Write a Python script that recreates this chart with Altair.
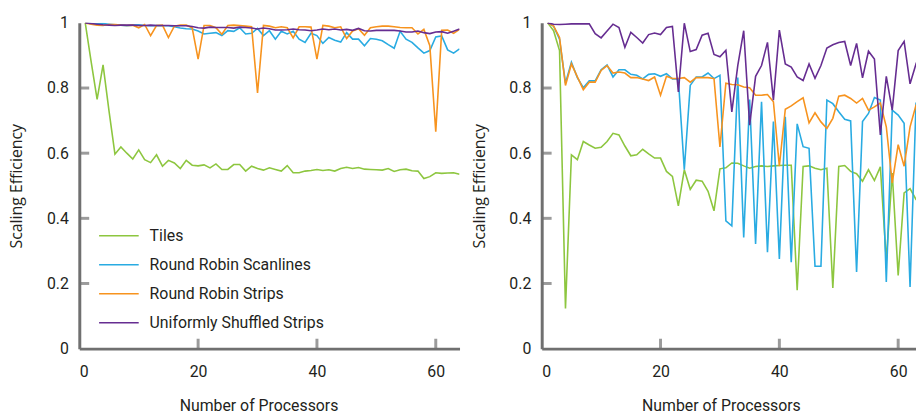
import altair as alt
import pandas as pd

SERIES = ["Tiles", "Round Robin Scanlines", "Round Robin Strips", "Uniformly Shuffled Strips"]
COLORS = ["#8DC63F", "#29ABE2", "#F7931E", "#662D91"]
PROCS = list(range(1, 65))

# ---- left panel ----
L_tiles = [1.0, 0.88, 0.765, 0.871, 0.73, 0.597, 0.619, 0.600, 0.582, 0.610,
           0.580, 0.571, 0.595, 0.560, 0.578, 0.570, 0.553, 0.578, 0.563, 0.561,
           0.564, 0.555, 0.567, 0.550, 0.550, 0.565, 0.565, 0.545, 0.560, 0.553,
           0.548, 0.555, 0.550, 0.545, 0.562, 0.540, 0.540, 0.545, 0.547, 0.550,
           0.547, 0.549, 0.545, 0.553, 0.557, 0.553, 0.556, 0.551, 0.550, 0.549,
           0.548, 0.553, 0.544, 0.549, 0.551, 0.546, 0.545, 0.522, 0.528, 0.540,
           0.538, 0.539, 0.540, 0.535]
L_scan = [1.0, 0.998, 0.997, 0.998, 0.996, 0.994, 0.993, 0.991, 0.993, 0.994,
          0.992, 0.991, 0.992, 0.991, 0.991, 0.988, 0.984, 0.982, 0.981, 0.975,
          0.966, 0.968, 0.970, 0.961, 0.976, 0.974, 0.985, 0.966, 0.968, 0.983,
          0.961, 0.976, 0.950, 0.974, 0.966, 0.974, 0.950, 0.940, 0.968, 0.961,
          0.937, 0.955, 0.947, 0.941, 0.970, 0.950, 0.950, 0.930, 0.952, 0.950,
          0.945, 0.933, 0.922, 0.974, 0.950, 0.940, 0.923, 0.907, 0.915, 0.957,
          0.960, 0.917, 0.907, 0.920]
L_strips = [1.0, 0.996, 0.993, 0.992, 0.995, 0.995, 0.993, 0.992, 0.993, 0.985,
            0.995, 0.961, 0.992, 0.993, 0.955, 0.990, 0.993, 0.993, 0.985, 0.889,
            0.992, 0.992, 0.985, 0.965, 0.992, 0.993, 0.992, 0.990, 0.988, 0.785,
            0.992, 0.990, 0.985, 0.988, 0.985, 0.954, 0.988, 0.988, 0.987, 0.889,
            0.992, 0.990, 0.985, 0.988, 0.952, 0.975, 0.982, 0.962, 0.985, 0.988,
            0.990, 0.990, 0.988, 0.986, 0.985, 0.985, 0.966, 0.980, 0.930, 0.666,
            0.977, 0.978, 0.968, 0.980]
L_shuffle = [1.0, 0.998, 0.996, 0.994, 0.993, 0.992, 0.993, 0.993, 0.993, 0.992,
             0.992, 0.993, 0.992, 0.992, 0.992, 0.991, 0.991, 0.991, 0.989, 0.985,
             0.984, 0.987, 0.986, 0.986, 0.986, 0.984, 0.987, 0.986, 0.984, 0.981,
             0.984, 0.982, 0.978, 0.978, 0.979, 0.981, 0.979, 0.978, 0.976, 0.978,
             0.981, 0.979, 0.981, 0.978, 0.980, 0.977, 0.983, 0.976, 0.975, 0.977,
             0.977, 0.977, 0.977, 0.975, 0.972, 0.972, 0.975, 0.970, 0.967, 0.972,
             0.973, 0.968, 0.974, 0.981]

# ---- right panel ----
R_tiles = [1.0, 0.976, 0.915, 0.123, 0.595, 0.580, 0.636, 0.625, 0.615, 0.618,
           0.636, 0.661, 0.656, 0.622, 0.592, 0.595, 0.612, 0.598, 0.585, 0.585,
           0.544, 0.529, 0.438, 0.549, 0.489, 0.517, 0.514, 0.483, 0.423, 0.552,
           0.555, 0.570, 0.569, 0.561, 0.554, 0.559, 0.561, 0.559, 0.561, 0.562,
           0.563, 0.563, 0.179, 0.559, 0.561, 0.554, 0.549, 0.554, 0.186, 0.559,
           0.562, 0.544, 0.537, 0.514, 0.549, 0.516, 0.558, 0.270, 0.539, 0.225,
           0.478, 0.491, 0.458, 0.440]
R_scan = [1.0, 0.990, 0.950, 0.815, 0.879, 0.832, 0.801, 0.822, 0.822, 0.856,
          0.871, 0.834, 0.856, 0.856, 0.842, 0.839, 0.828, 0.842, 0.844, 0.836,
          0.844, 0.828, 0.828, 0.549, 0.808, 0.834, 0.834, 0.846, 0.829, 0.839,
          0.392, 0.377, 0.832, 0.341, 0.765, 0.321, 0.758, 0.296, 0.697, 0.275,
          0.712, 0.265, 0.690, 0.620, 0.615, 0.253, 0.253, 0.763, 0.752, 0.727,
          0.704, 0.699, 0.235, 0.697, 0.722, 0.771, 0.763, 0.205, 0.732, 0.717,
          0.692, 0.189, 0.752, 0.740]
R_strips = [1.0, 0.990, 0.955, 0.808, 0.874, 0.834, 0.795, 0.818, 0.818, 0.854,
            0.869, 0.846, 0.849, 0.846, 0.832, 0.832, 0.828, 0.823, 0.834, 0.778,
            0.836, 0.829, 0.829, 0.832, 0.818, 0.832, 0.832, 0.832, 0.829, 0.619,
            0.815, 0.811, 0.810, 0.803, 0.801, 0.778, 0.778, 0.780, 0.758, 0.560,
            0.735, 0.745, 0.758, 0.770, 0.693, 0.724, 0.696, 0.676, 0.707, 0.775,
            0.778, 0.768, 0.754, 0.768, 0.732, 0.742, 0.754, 0.681, 0.509, 0.626,
            0.560, 0.681, 0.747, 0.750]
R_shuffle = [1.0, 0.996, 0.995, 0.996, 0.997, 0.997, 0.997, 0.997, 0.967, 0.954,
             0.975, 0.996, 0.986, 0.925, 0.971, 0.955, 0.938, 0.964, 0.969, 0.964,
             0.986, 0.989, 0.788, 0.999, 0.912, 0.918, 0.962, 0.968, 0.903, 0.896,
             0.916, 0.727, 0.869, 0.976, 0.686, 0.836, 0.869, 0.940, 0.763, 0.978,
             0.874, 0.864, 0.834, 0.823, 0.874, 0.830, 0.869, 0.923, 0.933, 0.940,
             0.943, 0.869, 0.937, 0.831, 0.913, 0.889, 0.656, 0.836, 0.732, 0.915,
             0.943, 0.813, 0.874, 0.850]

X_TICKS = [0, 20, 40, 60]
Y_TICKS = [0, 0.2, 0.4, 0.6, 0.8, 1.0]
X_INNER_TICKS = [20, 40, 60]
Y_INNER_TICKS = [0.2, 0.4, 0.6, 0.8]

AX = "#231f20"
LINE = "#707070"
H = 329


def long_df(series_lists):
    rows = []
    for name, vals in zip(SERIES, series_lists):
        for p, v in zip(PROCS, vals):
            rows.append({"series": name, "p": p, "v": v})
    return pd.DataFrame(rows)


def panel(df, width, xmax, legend):
    x = alt.X("p:Q", scale=alt.Scale(domain=[0, xmax], nice=False),
              axis=alt.Axis(values=X_TICKS, title="Number of Processors", titleX=181,
                            domainColor=LINE, domainWidth=3))
    y = alt.Y("v:Q", scale=alt.Scale(domain=[0, 1], nice=False),
              axis=alt.Axis(values=Y_TICKS, format=".1~f", title="Scaling Efficiency",
                            domainColor=LINE, domainWidth=3))
    lines = alt.Chart(df).mark_line(strokeWidth=1.6, clip=True).encode(
        x=x, y=y,
        color=alt.Color("series:N", sort=SERIES,
                        scale=alt.Scale(domain=SERIES, range=COLORS),
                        legend=legend),
        order="p:Q",
    )
    yt = alt.Chart(pd.DataFrame({"v": Y_INNER_TICKS})).mark_tick(
        color=LINE, thickness=3, size=10, orient="horizontal").encode(
        y="v:Q", x=alt.value(5))
    xt = alt.Chart(pd.DataFrame({"p": X_INNER_TICKS})).mark_tick(
        color=LINE, thickness=3, size=10, orient="vertical").encode(
        x="p:Q", y=alt.value(H - 5))
    return alt.layer(lines, yt, xt).properties(width=width, height=H)


legend = alt.Legend(orient="none", legendX=19, legendY=194, title=None,
                    symbolType="stroke", symbolSize=1600, symbolStrokeWidth=1.6,
                    labelFont="Roboto", labelFontSize=16, labelColor=AX,
                    labelOffset=10, rowPadding=0.3, labelLimit=0)

left = panel(long_df([L_tiles, L_scan, L_strips, L_shuffle]), 384, 64, legend)
right = panel(long_df([R_tiles, R_scan, R_strips, R_shuffle]), 378, 63, None)

chart = alt.hconcat(left, right, spacing=11).resolve_scale(
    color="independent"
).properties(
    padding={"left": 0, "top": 5, "right": 0, "bottom": 0}
).configure_view(strokeWidth=0).configure_axis(
    ticks=False, grid=False,
    labelFont="Roboto", labelFontSize=16, labelColor=AX,
    titleFont="Roboto", titleFontSize=16, titleFontWeight="normal", titleColor=AX,
).configure_axisY(
    labelPadding=11, titlePadding=22, titleFont="Open Sans"
).configure_axisX(
    labelPadding=15, titlePadding=18
)

chart.save("out.html", embed_options={"renderer": "svg", "actions": False})
